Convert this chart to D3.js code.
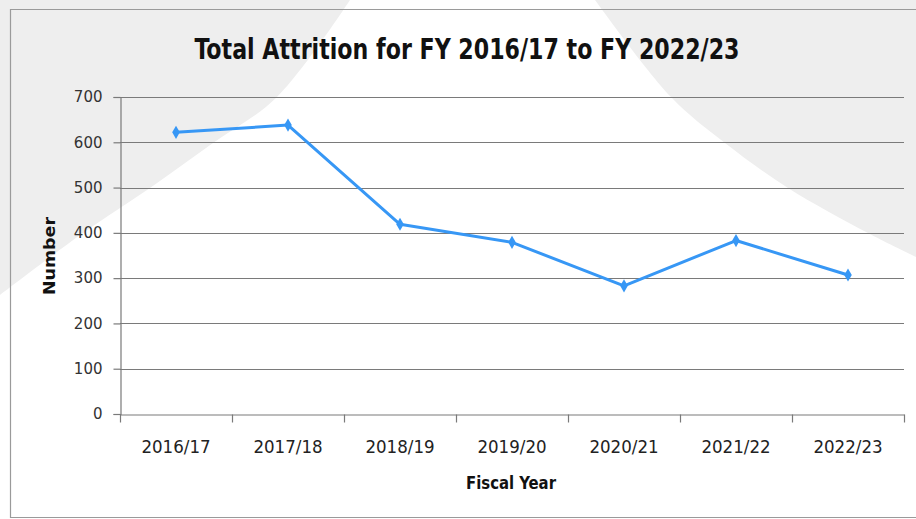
<!DOCTYPE html>
<html><head><meta charset="utf-8">
<script src="https://cdn.jsdelivr.net/npm/d3@7"></script>
<style>html,body{margin:0;padding:0;background:#fff;overflow:hidden}</style>
</head><body>
<svg id="c" width="916" height="519"></svg>
<script>
const categories = ["2016/17","2017/18","2018/19","2019/20","2020/21","2021/22","2022/23"];
const attrition = [622, 638, 419, 379, 283, 383, 307];
const yTicks = [0,100,200,300,400,500,600,700];
const title = "Total Attrition for FY 2016/17 to FY 2022/23";
const xTitle = "Fiscal Year";
const yTitle = "Number";

const W = 916, H = 519;
const m = {left:120, right:12, top:97, bottom:105};
const svg = d3.select("#c");
const narrow = "'Liberation Sans Narrow','DejaVu Sans Condensed',sans-serif";

// background
svg.append("rect").attr("width",W).attr("height",H).attr("fill","#eeeeee");
const leftEdge = [[0,295],[83,233],[150,188],[213,143],[277,97],[350,0]];
const rightEdge = [[595,0],[671,97],[725,143],[788,188],[868,233],[916,257]];
const edgeLine = d3.line().curve(d3.curveCatmullRom);
svg.append("path").attr("fill","#ffffff")
  .attr("d", edgeLine(leftEdge) + "L" + edgeLine(rightEdge).slice(1) + "L916,519L0,519Z");
// chart border
svg.append("path").attr("fill","none").attr("stroke","#9a9a9a").attr("stroke-width",1.2)
  .attr("d","M916,9.5 L10.5,9.5 L10.5,517.5 L916,517.5");

const x = d3.scaleBand().domain(categories).range([m.left, W-m.right]).padding(0);
const y = d3.scaleLinear().domain([0,700]).range([H-m.bottom, m.top]);

// gridlines
svg.append("g").selectAll("line").data(yTicks.filter(d=>d>0)).join("line")
  .attr("x1",m.left).attr("x2",W-m.right)
  .attr("y1",d=>Math.round(y(d))+0.5).attr("y2",d=>Math.round(y(d))+0.5)
  .attr("stroke","#7a7a7a").attr("stroke-width",1.2);

// y axis
const ya = svg.append("g").attr("transform",`translate(${m.left+0.5},0)`)
  .call(d3.axisLeft(y).tickValues(yTicks).tickSize(7).tickPadding(11));
ya.select(".domain").attr("stroke","#7a7a7a").attr("stroke-width",1.2);
ya.selectAll(".tick line").attr("stroke","#7a7a7a").attr("stroke-width",1.2);
ya.selectAll(".tick text").attr("font-family","'DejaVu Sans',sans-serif")
  .attr("font-size",15).attr("fill","#333");

// x axis
const xa = svg.append("g").attr("transform",`translate(0,${Math.round(y(0))+0.5})`)
  .call(d3.axisBottom(x).tickSize(0).tickPadding(25));
xa.select(".domain").attr("stroke","#7a7a7a").attr("stroke-width",1.2);
xa.selectAll(".tick text").attr("font-family",narrow).attr("font-size",18.5).attr("fill","#222");
const bounds = categories.map(c=>x(c)).concat([x.range()[1]]);
xa.selectAll("line.bt").data(bounds).join("line").attr("class","bt")
  .attr("x1",d=>Math.round(d)+0.5).attr("x2",d=>Math.round(d)+0.5)
  .attr("y1",0).attr("y2",8).attr("stroke","#7a7a7a").attr("stroke-width",1.2);

// line
const cx = d=>x(d)+x.bandwidth()/2;
svg.append("path").datum(categories)
  .attr("fill","none").attr("stroke","#3797f5").attr("stroke-width",3)
  .attr("stroke-linejoin","round")
  .attr("d",d3.line().x(c=>cx(c)).y((c,i)=>y(attrition[i])));
svg.append("g").selectAll("path").data(categories).join("path")
  .attr("transform",(c,i)=>`translate(${cx(c)},${y(attrition[i])})`)
  .attr("d",d3.symbol(d3.symbolDiamond,50))
  .attr("fill","#3797f5");

// titles
svg.append("text").attr("x",467).attr("y",59).attr("text-anchor","middle")
  .attr("font-family",narrow).attr("font-weight","bold").attr("font-size",29)
  .attr("textLength",545).attr("lengthAdjust","spacingAndGlyphs")
  .attr("fill","#111").text(title);
svg.append("text").attr("x",511).attr("y",489).attr("text-anchor","middle")
  .attr("font-family",narrow).attr("font-weight","bold").attr("font-size",18)
  .attr("textLength",90).attr("lengthAdjust","spacingAndGlyphs")
  .attr("fill","#111").text(xTitle);
svg.append("text").attr("transform","translate(55,256) rotate(-90)").attr("text-anchor","middle")
  .attr("font-family","'DejaVu Sans',sans-serif").attr("font-weight","bold").attr("font-size",15.5)
  .attr("textLength",78).attr("lengthAdjust","spacingAndGlyphs")
  .attr("fill","#111").text(yTitle);
</script>
</body></html>
